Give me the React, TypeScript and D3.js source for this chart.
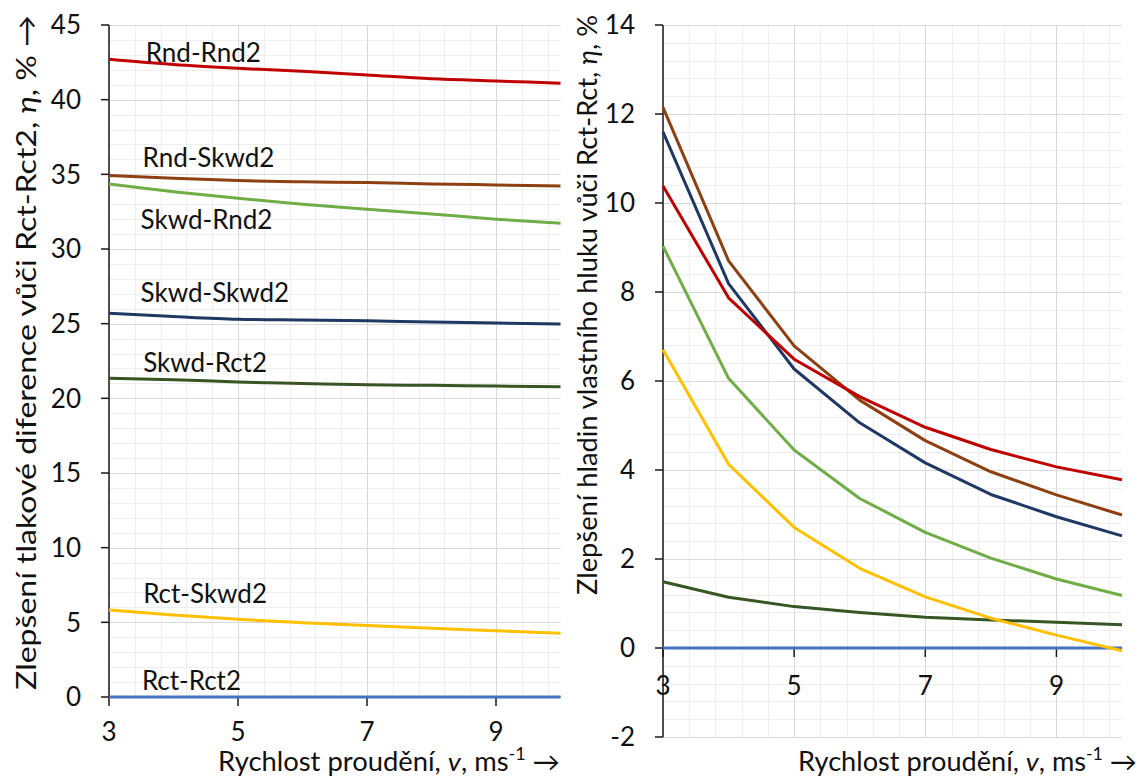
import React from 'react';
import * as d3 from 'd3';

// ---------- DATA ----------
const speeds = [3, 4, 5, 6, 7, 8, 9, 10];
const xTickValues = [3, 5, 7, 9];

const seriesNames = ['Rct-Rct2', 'Skwd-Rct2', 'Rct-Skwd2', 'Skwd-Rnd2', 'Skwd-Skwd2', 'Rnd-Skwd2', 'Rnd-Rnd2'];
const seriesColors = ['#4472C4', '#375623', '#FFC000', '#70AD47', '#203864', '#8E4012', '#C00000'];

// Left panel: pressure-difference improvement (%)
const pressureRctRct2 = [0, 0, 0, 0, 0, 0, 0, 0];
const pressureSkwdRct2 = [21.34, 21.25, 21.09, 21.0, 20.91, 20.87, 20.82, 20.78];
const pressureRctSkwd2 = [5.83, 5.49, 5.2, 4.98, 4.78, 4.6, 4.44, 4.27];
const pressureSkwdRnd2 = [34.36, 33.84, 33.4, 33.0, 32.66, 32.35, 32.0, 31.73];
const pressureSkwdSkwd2 = [25.7, 25.48, 25.3, 25.25, 25.2, 25.11, 25.05, 24.97];
const pressureRndSkwd2 = [34.92, 34.74, 34.58, 34.5, 34.45, 34.36, 34.29, 34.22];
const pressureRndRnd2 = [42.7, 42.35, 42.1, 41.9, 41.65, 41.4, 41.25, 41.1];

// Right panel: self-noise level improvement (%)
const noiseRctRct = [0, 0, 0, 0, 0, 0, 0, 0];
const noiseSkwdRct = [1.49, 1.14, 0.93, 0.8, 0.69, 0.63, 0.58, 0.52];
const noiseRctSkwd = [6.7, 4.13, 2.71, 1.79, 1.15, 0.67, 0.29, -0.06];
const noiseSkwdRnd = [9.03, 6.06, 4.45, 3.36, 2.6, 2.02, 1.55, 1.18];
const noiseSkwdSkwd = [11.6, 8.19, 6.27, 5.06, 4.16, 3.45, 2.95, 2.52];
const noiseRndSkwd = [12.15, 8.7, 6.79, 5.57, 4.66, 3.96, 3.44, 2.99];
const noiseRndRnd = [10.38, 7.87, 6.49, 5.65, 4.96, 4.46, 4.07, 3.78];

const pressureSeries = [pressureRctRct2, pressureSkwdRct2, pressureRctSkwd2, pressureSkwdRnd2, pressureSkwdSkwd2, pressureRndSkwd2, pressureRndRnd2];
const noiseSeries = [noiseRctRct, noiseSkwdRct, noiseRctSkwd, noiseSkwdRnd, noiseSkwdSkwd, noiseRndSkwd, noiseRndRnd];

// Series labels in the left panel (data coordinates: speed, value of baseline)
const labelSpeeds = [3.51, 3.53, 3.53, 3.49, 3.49, 3.52, 3.57];
const labelValues = [0.47, 21.79, 6.3, 31.33, 26.48, 35.52, 42.53];

const leftYTicks = [0, 5, 10, 15, 20, 25, 30, 35, 40, 45];
const rightYTicks = [-2, 0, 2, 4, 6, 8, 10, 12, 14];

const FONT = 'Lato, "Open Sans", sans-serif';

function rng(a: number, b: number, s: number) {
  const out: number[] = [];
  for (let v = a; v <= b + 1e-9; v += s) out.push(Math.round(v * 1000) / 1000);
  return out;
}

type PanelProps = {
  x: d3.ScaleLinear<number, number>;
  y: d3.ScaleLinear<number, number>;
  yTicks: number[];
  yMinorStep: number;
  xMinorStep: number;
  series: number[][];
  curve: d3.CurveFactory;
  xLabelBaseline: number;
  yLabelEnd: number;
};

function Panel({ x, y, yTicks, yMinorStep, xMinorStep, series, curve, xLabelBaseline, yLabelEnd }: PanelProps) {
  const [x0, x1] = x.range();
  const [yb, yt] = y.range();
  const [d0, d1] = y.domain();
  const yMinor = rng(d0, d1, yMinorStep);
  const xMinor = rng(3, 10, xMinorStep).filter((v) => v < 10);
  const y0 = y(0);
  const line = d3
    .line<number>()
    .x((_, i) => x(speeds[i]))
    .y((d) => y(d))
    .curve(curve);
  const c = (v: number) => Math.round(v) + 0.5;
  return (
    <g>
      {/* minor grid */}
      {xMinor.map((v) => (
        <line key={'xm' + v} x1={c(x(v))} x2={c(x(v))} y1={yb} y2={yt} stroke="#eeeeee" strokeWidth={1} />
      ))}
      {yMinor.map((v) => (
        <line key={'ym' + v} x1={x0} x2={x1} y1={c(y(v))} y2={c(y(v))} stroke="#eeeeee" strokeWidth={1} />
      ))}
      {/* major grid */}
      {xTickValues.map((v) => (
        <line key={'xM' + v} x1={c(x(v))} x2={c(x(v))} y1={yb} y2={yt} stroke="#d9d9d9" strokeWidth={1} />
      ))}
      {yTicks.map((v) => (
        <line key={'yM' + v} x1={x0} x2={x1} y1={c(y(v))} y2={c(y(v))} stroke="#d9d9d9" strokeWidth={1} />
      ))}
      {/* axes */}
      <line x1={x0} x2={x0} y1={yb} y2={yt} stroke="#1a1a1a" strokeWidth={1.5} />
      {yTicks.map((v) => (
        <line key={'yt' + v} x1={x0 - 8} x2={x0} y1={y(v)} y2={y(v)} stroke="#1a1a1a" strokeWidth={1.5} />
      ))}
      <line x1={x0} x2={x1} y1={y0} y2={y0} stroke="#1a1a1a" strokeWidth={1} />
      {xTickValues.map((v) => (
        <line key={'xt' + v} x1={x(v)} x2={x(v)} y1={y0} y2={y0 + 9} stroke="#1a1a1a" strokeWidth={1.5} />
      ))}
      {/* series */}
      {series.map((s, i) => (
        <path key={'s' + i} d={line(s) || ''} fill="none" stroke={seriesColors[i]} strokeWidth={3} strokeLinejoin="round" />
      ))}
      {/* tick labels */}
      {yTicks.map((v) => (
        <text key={'yl' + v} x={yLabelEnd} y={y(v)} dy="0.36em" textAnchor="end" fontSize={26} fill="#111" fontFamily={FONT}>
          {v}
        </text>
      ))}
      {xTickValues.map((v) => (
        <text key={'xl' + v} x={x(v)} y={xLabelBaseline} textAnchor="middle" fontSize={26} fill="#111" fontFamily={FONT}>
          {v}
        </text>
      ))}
    </g>
  );
}

function XTitle({ xStart, xEnd, y }: { xStart: number; xEnd: number; y: number }) {
  return (
    <text
      x={xStart}
      y={y}
      textAnchor="start"
      fontSize={26}
      fill="#111"
      fontFamily={FONT}
      textLength={xEnd - xStart}
      lengthAdjust="spacingAndGlyphs"
    >
      <tspan>Rychlost proudění, </tspan>
      <tspan fontStyle="italic">v</tspan>
      <tspan>, ms</tspan>
      <tspan fontSize={17} dy={-11}>-1</tspan>
      <tspan dy={11}> →</tspan>
    </text>
  );
}

export default function App() {
  const xL = d3.scaleLinear().domain([3, 10]).range([109, 560.5]);
  const yL = d3.scaleLinear().domain([0, 45]).range([697, 25]);
  const xR = d3.scaleLinear().domain([3, 10]).range([663, 1122]);
  const yR = d3.scaleLinear().domain([-2, 14]).range([737, 25]);

  return (
    <svg
      width={1141}
      height={778}
      style={{ position: 'absolute', left: 0, top: 0, background: '#fff' }}
      fontFamily={FONT}
    >
      <rect width={1141} height={778} fill="#fff" />
      <Panel
        x={xL}
        y={yL}
        yTicks={leftYTicks}
        yMinorStep={1}
        xMinorStep={0.4}
        series={pressureSeries}
        curve={d3.curveMonotoneX}
        xLabelBaseline={741}
        yLabelEnd={81}
      />
      <Panel
        x={xR}
        y={yR}
        yTicks={rightYTicks}
        yMinorStep={0.4}
        xMinorStep={0.4}
        series={noiseSeries}
        curve={d3.curveLinear}
        xLabelBaseline={695}
        yLabelEnd={635}
      />
      {/* series labels (left panel) */}
      {seriesNames.map((n, i) => (
        <text key={'lab' + n} x={xL(labelSpeeds[i])} y={yL(labelValues[i])} fontSize={26} fill="#111" fontFamily={FONT}>
          {n}
        </text>
      ))}
      {/* y titles */}
      <text
        transform="translate(25,690) rotate(-90)"
        textAnchor="start"
        dominantBaseline="central"
        fontSize={27}
        fill="#111"
        textLength={675}
        lengthAdjust="spacingAndGlyphs"
      >
        <tspan>Zlepšení tlakové diference vůči Rct-Rct2, </tspan>
        <tspan fontStyle="italic">η</tspan>
        <tspan>, % →</tspan>
      </text>
      <text
        transform="translate(586,595) rotate(-90)"
        textAnchor="start"
        dominantBaseline="central"
        fontSize={27}
        fill="#111"
        textLength={580}
        lengthAdjust="spacingAndGlyphs"
      >
        <tspan>Zlepšení hladin vlastního hluku vůči Rct-Rct, </tspan>
        <tspan fontStyle="italic">η</tspan>
        <tspan>, %</tspan>
      </text>
      <XTitle xStart={218} xEnd={560} y={771} />
      <XTitle xStart={798} xEnd={1137} y={771} />
    </svg>
  );
}
